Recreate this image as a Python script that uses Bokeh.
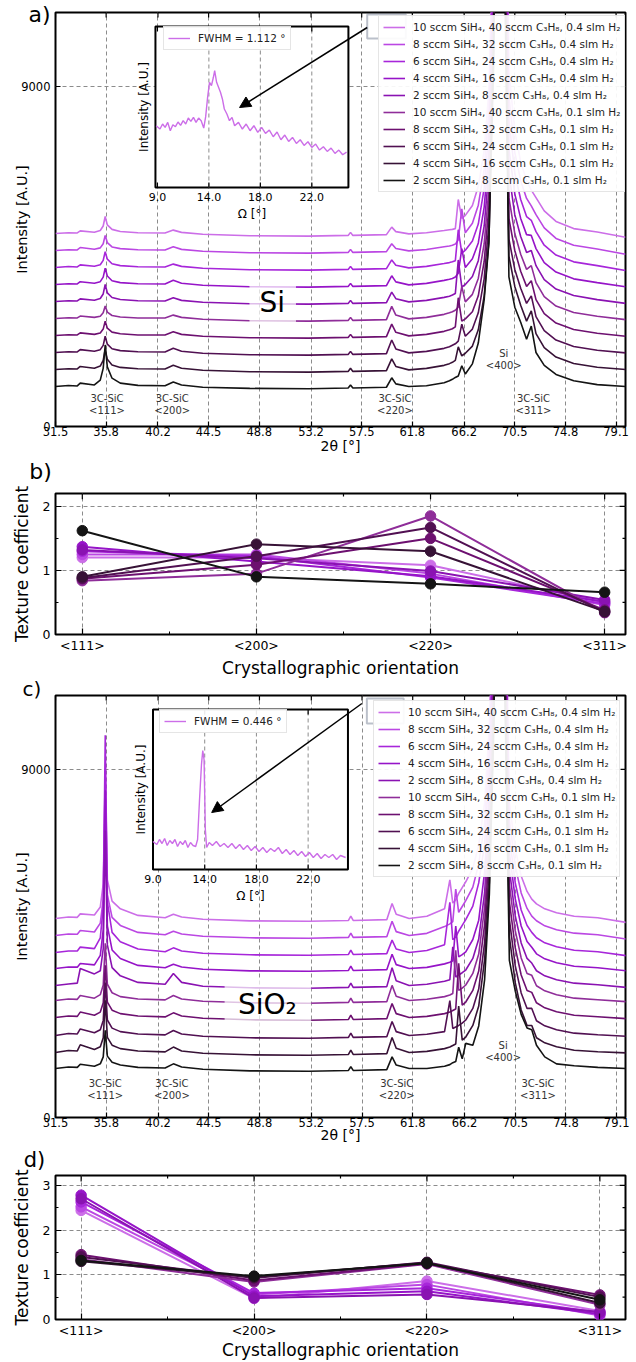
import math
from bokeh.plotting import figure
from bokeh.models import (Range1d, FixedTicker, Legend, LegendItem, Label, Title,
                          Arrow, NormalHead, BoxAnnotation)
from bokeh.layouts import column
from bokeh.embed import file_html
from bokeh.resources import INLINE
from bokeh.core.properties import value

FONT = "DejaVu Sans"
W = 636

# ---------------------------------------------------------------- data
series_labels = [
    "10 sccm SiH₄, 40 sccm C₃H₈, 0.4 slm H₂",
    "8 sccm SiH₄, 32 sccm C₃H₈, 0.4 slm H₂",
    "6 sccm SiH₄, 24 sccm C₃H₈, 0.4 slm H₂",
    "4 sccm SiH₄, 16 sccm C₃H₈, 0.4 slm H₂",
    "2 sccm SiH₄, 8 sccm C₃H₈, 0.4 slm H₂",
    "10 sccm SiH₄, 40 sccm C₃H₈, 0.1 slm H₂",
    "8 sccm SiH₄, 32 sccm C₃H₈, 0.1 slm H₂",
    "6 sccm SiH₄, 24 sccm C₃H₈, 0.1 slm H₂",
    "4 sccm SiH₄, 16 sccm C₃H₈, 0.1 slm H₂",
    "2 sccm SiH₄, 8 sccm C₃H₈, 0.1 slm H₂",
]
series_colors = ["#cc6ee8", "#bb47e3", "#a726da", "#9614c8", "#8a12b2",
                 "#8f2d99", "#6d1070", "#511052", "#371236", "#141414"]

two_theta_ticks = [31.5, 35.8, 40.2, 44.5, 48.8, 53.2, 57.5, 61.8, 66.2, 70.5, 74.8, 79.1]
intensity_ticks = [0, 9000]

two_theta = [31.5, 32.6, 33.35, 33.6, 34.8, 35.3, 35.55, 35.72, 35.9, 36.3, 37.0, 38.5,
             40.8, 41.5, 42.2, 44.0, 48.0, 53.0, 56.35, 56.55, 56.75, 59.6, 60.05, 60.4,
             61.5, 63.0, 64.5, 64.95, 65.2, 65.45, 65.7, 66.0, 66.3, 66.9, 67.4, 67.9,
             68.3, 68.7, 69.1, 69.6, 70.0, 70.5, 71.0, 71.5, 71.9, 72.3, 73.0, 74.0,
             75.5, 77.5, 79.9]

# waterfall offsets (counts) of each pattern
offsets_on_si = [5109, 4659, 4209, 3759, 3309, 2859, 2409, 1959, 1509, 1059]
offsets_on_sio2 = [5146, 4707, 4267, 3853, 3414, 3026, 2586, 2121, 1681, 1267]

# intensity above each pattern's offset (counts), on the two_theta grid
xrd_on_si = [
    [0, 20, 15, 70, 35, 80, 200, 450, 230, 110, 55, 20, 15, 90, 30, -20, -60, -70, -50, 30, -50, -30, 170, 50, -10,
     20, 80, 100, 110, 130, 900, 400, 480, 740, 1250, 2200, 3800, 8500, 30000, 14000, 4300, 2700, 1900, 1400, 1150, 950, 600, 320, 130, 40, -100],
    [0, 20, 15, 80, 35, 70, 180, 400, 210, 95, 50, 20, 15, 100, 30, -20, -60, -70, -50, 30, -50, -30, 180, 55, -10,
     25, 100, 120, 140, 170, 280, 1100, 470, 720, 1200, 2150, 3700, 8300, 30000, 13500, 4100, 2600, 1850, 1380, 1180, 950, 600, 320, 140, 40, -100],
    [0, 25, 15, 70, 35, 75, 190, 420, 220, 100, 50, 20, 15, 90, 30, -20, -60, -70, -50, 30, -50, -30, 200, 60, -10,
     30, 105, 130, 150, 180, 1000, 380, 460, 700, 1150, 2100, 3600, 8200, 30000, 13000, 3900, 2500, 1800, 1350, 1250, 950, 590, 330, 150, 50, -80],
    [0, 20, 15, 75, 35, 75, 195, 430, 225, 100, 50, 20, 15, 110, 35, -20, -60, -70, -50, 30, -50, -30, 230, 70, -10,
     30, 110, 140, 160, 200, 300, 950, 450, 680, 1100, 2050, 3500, 8100, 30000, 12500, 3600, 2400, 1750, 1320, 1300, 950, 580, 330, 150, 50, -60],
    [0, 20, 15, 70, 35, 80, 200, 450, 230, 105, 55, 20, 15, 100, 30, -20, -60, -70, -50, 30, -50, -30, 250, 75, -10,
     30, 110, 140, 170, 210, 1100, 380, 450, 660, 1080, 2000, 3450, 8000, 30000, 12000, 3400, 2300, 1720, 1300, 1350, 950, 580, 330, 160, 50, -50],
    [0, 20, 15, 65, 30, 60, 150, 330, 170, 80, 40, 15, 15, 90, 30, -20, -60, -70, -50, 30, -50, -30, 320, 90, -10,
     30, 110, 150, 180, 220, 300, 850, 440, 640, 1060, 1980, 3420, 8000, 30000, 12000, 3200, 2250, 1700, 1300, 1400, 950, 580, 330, 160, 60, -30],
    [0, 20, 15, 70, 30, 65, 170, 380, 195, 90, 45, 15, 15, 100, 30, -20, -60, -70, -50, 30, -50, -30, 300, 85, -10,
     30, 110, 150, 180, 230, 1000, 380, 440, 630, 1050, 1960, 3400, 8000, 30000, 12000, 3100, 2250, 1700, 1300, 1450, 950, 580, 330, 160, 60, -20],
    [0, 20, 15, 75, 35, 75, 190, 430, 220, 100, 50, 20, 15, 110, 35, -20, -60, -70, -50, 30, -50, -30, 330, 95, -10,
     30, 110, 150, 190, 230, 300, 750, 430, 620, 1050, 1950, 3400, 8000, 30000, 12000, 3000, 2200, 1700, 1300, 1500, 950, 580, 330, 160, 60, -10],
    [0, 20, 15, 80, 35, 90, 240, 530, 270, 120, 55, 20, 15, 110, 35, -20, -60, -70, -50, 30, -50, -30, 280, 80, -10,
     30, 110, 155, 190, 240, 600, 360, 430, 620, 1050, 1950, 3400, 8000, 30000, 12000, 3000, 2200, 1700, 1280, 1550, 950, 580, 330, 160, 60, 0],
    [0, 25, 15, 90, 40, 170, 480, 1100, 520, 220, 90, 30, 20, 120, 40, -20, -50, -60, -40, 40, -40, -20, 230, 70, 0,
     20, 100, 150, 190, 240, 280, 550, 330, 600, 1150, 2300, 3800, 9000, 30000, 12000, 2900, 2100, 1700, 1250, 1600, 900, 560, 320, 150, 50, 0],
]

xrd_on_sio2 = [
    [0, 40, 30, 120, 90, 300, 900, 3830, 1000, 450, 250, 80, 20, 110, 40, -20, -60, -70, -50, 60, -50, -30, 390, 110, 0,
     60, 250, 1000, 400, 480, 650, 800, 950, 1300, 1900, 3000, 5000, 9000, 30000, 10000, 3000, 1800, 1100, 700, 500, 380, 250, 150, 60, 20, -100],
    [0, 40, 30, 130, 90, 320, 950, 4140, 1050, 470, 260, 80, 20, 110, 40, -20, -60, -70, -50, 60, -50, -30, 370, 100, 0,
     55, 230, 300, 360, 1200, 600, 750, 900, 1250, 1850, 2900, 4900, 9000, 30000, 10000, 3000, 1800, 1100, 700, 500, 380, 250, 150, 60, 20, -90],
    [0, 40, 40, 140, 100, 380, 1200, 5620, 1300, 520, 280, 90, 20, 120, 40, -20, -60, -70, -50, 60, -50, -30, 320, 90, 0,
     50, 200, 1300, 330, 400, 550, 700, 850, 1200, 1800, 2800, 4800, 9000, 30000, 10000, 3000, 1800, 1100, 700, 520, 380, 250, 150, 60, 20, -80],
    [0, 40, 35, 130, 95, 340, 1000, 4610, 1100, 480, 260, 80, 20, 110, 40, -20, -60, -70, -50, 60, -50, -30, 370, 100, 0,
     30, 120, 160, 200, 1100, 300, 360, 430, 750, 1250, 2500, 4500, 9000, 30000, 10000, 3000, 1800, 1100, 700, 550, 380, 250, 150, 60, 20, -60],
    [0, 40, 60, 440, 300, 380, 950, 4010, 1050, 460, 250, 80, 30, 310, 80, -20, -60, -70, -50, 60, -50, -30, 460, 120, 0,
     30, 110, 150, 1000, 220, 270, 330, 400, 700, 1200, 2400, 4400, 9000, 30000, 10000, 3000, 1800, 1100, 700, 580, 380, 250, 150, 60, 20, -50],
    [0, 40, 30, 130, 60, 150, 400, 1480, 420, 200, 100, 40, 15, 130, 40, -20, -60, -70, -50, 60, -50, -30, 390, 110, 0,
     30, 100, 140, 180, 1300, 260, 320, 400, 700, 1200, 2400, 4400, 9000, 30000, 10000, 3000, 1800, 1100, 700, 650, 380, 250, 150, 60, 20, -30],
    [0, 40, 30, 140, 60, 140, 380, 1350, 400, 190, 100, 40, 15, 120, 40, -20, -60, -70, -50, 60, -50, -30, 360, 100, 0,
     30, 100, 140, 180, 220, 1400, 320, 400, 700, 1200, 2400, 4400, 9000, 30000, 10000, 3000, 1800, 1100, 700, 650, 380, 250, 150, 60, 20, -30],
    [0, 50, 40, 170, 70, 150, 390, 1370, 400, 190, 100, 40, 15, 130, 40, -20, -60, -70, -50, 60, -50, -30, 360, 100, 0,
     30, 100, 900, 180, 220, 260, 320, 400, 700, 1200, 2400, 4400, 9000, 30000, 10000, 3000, 1800, 1100, 700, 700, 380, 250, 150, 60, 20, -20],
    [0, 50, 40, 200, 80, 150, 380, 1350, 390, 190, 100, 40, 15, 140, 40, -20, -60, -70, -50, 60, -50, -30, 390, 110, 0,
     30, 100, 140, 180, 220, 1200, 320, 400, 700, 1200, 2400, 4400, 9000, 30000, 10000, 3000, 1800, 1100, 700, 700, 380, 250, 150, 60, 20, -10],
    [0, 40, 30, 110, 60, 120, 300, 985, 320, 160, 90, 30, 15, 120, 40, -20, -60, -70, -50, 50, -50, -30, 300, 90, 0,
     0, 60, 100, 150, 180, 550, 250, 650, 600, 1100, 2300, 4500, 9000, 30000, 10000, 2800, 2000, 1400, 1050, 1000, 600, 300, 120, 70, 30, 0],
]

peak_label_texts = ["3C-SiC\n<111>", "3C-SiC\n<200>", "3C-SiC\n<220>", "Si\n<400>", "3C-SiC\n<311>"]

# rocking-curve insets (omega in degrees, intensity in arbitrary units)
inset_tick_pos = [10, 14, 18, 22]
inset_tick_labels = ["9.0", "14.0", "18.0", "22.0"]
omega_on_si = [9.9, 10.2, 10.4, 10.6, 10.8, 11.0, 11.2, 11.4, 11.6, 11.8, 12.0, 12.2, 12.4, 12.6, 12.8,
               13.0, 13.2, 13.4, 13.6, 13.75, 13.9, 14.05, 14.2, 14.35, 14.45, 14.6, 14.75, 14.9, 15.05,
               15.2, 15.4, 15.6, 15.8, 16.0, 16.3, 16.6, 16.9, 17.2, 17.5, 17.8, 18.1, 18.4, 18.7, 19.0,
               19.3, 19.6, 19.9, 20.2, 20.5, 20.8, 21.1, 21.4, 21.7, 22.0, 22.3, 22.6, 22.9, 23.2, 23.5,
               23.8, 24.1, 24.4, 24.7]
rocking_on_si = [185, 175, 190, 180, 195, 170, 188, 182, 196, 186, 200, 190, 208, 198, 210,
                 195, 208, 200, 178, 212, 270, 315, 305, 330, 350, 315, 300, 285, 265,
                 235, 220, 200, 210, 185, 195, 175, 190, 170, 185, 165, 180, 162, 172, 152,
                 166, 143, 157, 138, 150, 132, 143, 126, 137, 120, 130, 112, 122, 108, 118,
                 102, 112, 98, 106]
omega_on_sio2 = [10.0, 10.3, 10.5, 10.7, 10.9, 11.1, 11.3, 11.5, 11.7, 11.9, 12.1, 12.3, 12.5, 12.7,
                 12.9, 13.1, 13.3, 13.45, 13.6, 13.75, 13.85, 13.95, 14.05, 14.15, 14.35, 14.6, 14.9,
                 15.2, 15.5, 15.8, 16.1, 16.4, 16.7, 17.0, 17.3, 17.6, 17.9, 18.2, 18.5, 18.8, 19.1,
                 19.4, 19.7, 20.0, 20.3, 20.6, 20.9, 21.2, 21.5, 21.8, 22.1, 22.4, 22.7, 23.0, 23.3,
                 23.6, 23.9, 24.2, 24.5, 24.9]
rocking_on_sio2 = [28, 25, 30, 26, 31, 24, 29, 26, 30, 23, 28, 25, 29, 22,
                   27, 24, 23, 30, 70, 105, 119, 110, 40, 22, 27, 24, 28,
                   23, 26, 22, 26, 21, 25, 20, 24, 19, 23, 18, 22, 17, 21,
                   18, 22, 16, 20, 15, 19, 14, 18, 13, 17, 12, 16, 11, 15,
                   12, 15, 10, 14, 12]

orientations = ["<111>", "<200>", "<220>", "<311>"]
# texture coefficients, one list per series (series order as in series_labels)
tc_on_si = [
    [1.20, 1.20, 1.08, 0.50],
    [1.25, 1.25, 0.95, 0.46],
    [1.30, 1.22, 0.89, 0.48],
    [1.37, 1.14, 0.91, 0.51],
    [1.32, 1.19, 0.99, 0.54],
    [0.84, 0.95, 1.85, 0.34],
    [0.87, 1.09, 1.50, 0.38],
    [0.88, 1.22, 1.67, 0.35],
    [0.90, 1.41, 1.30, 0.36],
    [1.62, 0.90, 0.79, 0.66],
]
tc_on_sio2 = [
    [2.44, 0.47, 0.86, 0.19],
    [2.52, 0.56, 0.78, 0.09],
    [2.63, 0.59, 0.70, 0.15],
    [2.78, 0.52, 0.63, 0.12],
    [2.70, 0.48, 0.56, 0.17],
    [1.35, 0.84, 1.24, 0.33],
    [1.45, 0.87, 1.25, 0.55],
    [1.40, 0.93, 1.28, 0.50],
    [1.30, 0.95, 1.27, 0.37],
    [1.32, 0.97, 1.26, 0.44],
]


# ---------------------------------------------------------------- helpers
def px_map(L, R, T, B, xr, yr):
    def X(px):
        return xr[0] + (px - L) / (R - L) * (xr[1] - xr[0])

    def Y(py):
        return yr[0] + (B - py) / (B - T) * (yr[1] - yr[0])
    return X, Y


def style_axis(ax, size, standoff, label, label_size, label_standoff, tin=5, minor_in=0):
    ax.axis_line_color = None
    ax.major_tick_in = tin
    ax.major_tick_out = 0
    ax.minor_tick_in = minor_in
    ax.minor_tick_out = 0
    ax.major_tick_line_color = "black"
    ax.major_tick_line_width = 1.2
    ax.minor_tick_line_color = "black"
    ax.major_label_text_font = FONT
    ax.major_label_text_color = "black"
    ax.major_label_text_font_size = size
    ax.major_label_standoff = standoff
    ax.axis_label = label
    ax.axis_label_text_font = FONT
    ax.axis_label_text_font_size = label_size
    ax.axis_label_text_font_style = "normal"
    ax.axis_label_text_color = "black"
    ax.axis_label_standoff = label_standoff


def mirror_ticks(p, xr, yr, L, R, T, B, xticks, yticks, length, xminor=(), yminor=(), mlength=0):
    # inward ticks on the top and right edges of the frame
    dy = (yr[1] - yr[0]) / (B - T)
    dx = (xr[1] - xr[0]) / (R - L)
    for xs, ln in ((list(xticks), length), (list(xminor), mlength)):
        if xs:
            p.segment(x0=xs, y0=[yr[1]] * len(xs), x1=xs, y1=[yr[1] - ln * dy] * len(xs),
                      line_color="black", line_width=1.2)
    for ys, ln in ((list(yticks), length), (list(yminor), mlength)):
        if ys:
            p.segment(x0=[xr[1]] * len(ys), y0=ys, x1=[xr[1] - ln * dx] * len(ys), y1=ys,
                      line_color="black", line_width=1.2)


def make_legend(items, loc, size="10.5px"):
    lg = Legend(items=items, location=loc, orientation="vertical")
    lg.label_text_font = FONT
    lg.label_text_font_size = size
    lg.label_text_color = "#222222"
    lg.glyph_width = 22
    lg.glyph_height = 14
    lg.label_height = 14
    lg.label_standoff = 8
    lg.spacing = 3
    lg.padding = 4
    lg.margin = 0
    lg.border_line_color = "#cccccc"
    lg.border_line_width = 1
    lg.background_fill_color = "white"
    lg.background_fill_alpha = 0.92
    return lg


def add_letter(p, L, T, spec):
    kind = spec[0]
    if kind == "label":
        # letter placed in the space above the frame (screen units from the frame's top-left)
        _, text, cx, cy, size = spec
        p.add_layout(Label(x=cx - L, y=T - cy, x_units="screen", y_units="screen", text=text,
                           text_font=FONT, text_font_size=size, text_align="center",
                           text_baseline="middle", text_color="black"), "above")
    else:
        _, text, offset, standoff, size = spec
        p.add_layout(Title(text=text, align="left", offset=offset, standoff=standoff,
                           vertical_align="bottom", text_font=FONT, text_font_size=size,
                           text_font_style="normal", text_color="black"), "above")


def new_figure(top, fh, L, R, T, B, xr, yr):
    p = figure(width=W, height=fh, x_range=Range1d(*xr), y_range=Range1d(*yr), title=None,
               output_backend="svg", toolbar_location=None,
               min_border_left=L, min_border_right=W - R,
               min_border_top=T - top, min_border_bottom=top + fh - B)
    p.outline_line_color = "black"
    p.outline_line_width = 2
    p.border_fill_color = "white"
    return p


def style_grid(p):
    for g in (p.xgrid[0], p.ygrid[0]):
        g.grid_line_color = "#8c8c8c"
        g.grid_line_dash = "4 3"
        g.grid_line_width = 1


def xrd_figure(cfg):
    top, fh = cfg["top"], cfg["height"]
    L, R, T, B = cfg["frame"]
    xr = (31.5, cfg["x_end"])
    yr = (0, cfg["y_end"])
    X, Y = px_map(L, R, T, B, xr, yr)
    p = new_figure(top, fh, L, R, T, B, xr, yr)
    xt = FixedTicker(ticks=two_theta_ticks, minor_ticks=[])
    yt = FixedTicker(ticks=intensity_ticks, minor_ticks=[])
    p.xaxis.ticker = xt
    p.yaxis.ticker = yt
    style_axis(p.xaxis[0], "11.5px", 0, "2θ [°]", "14px", cfg["xlabel_standoff"])
    style_axis(p.yaxis[0], "11.5px", 5, "Intensity [A.U.]", "14.5px", -12)
    p.xgrid.ticker = xt
    p.ygrid.ticker = yt
    style_grid(p)
    mirror_ticks(p, xr, yr, L, R, T, B, two_theta_ticks, intensity_ticks, 5)

    rends = []
    for i in range(10):
        ys = [cfg["offsets"][i] + v for v in cfg["rows"][i]]
        rends.append(p.line(two_theta, ys, line_color=series_colors[i], line_width=1.6))

    # substrate label with translucent white box
    sl, sr, st, sb = cfg["sub_box"]
    p.quad(left=[X(sl)], right=[X(sr)], top=[Y(st)], bottom=[Y(sb)],
           fill_color="white", fill_alpha=0.72, line_color=None)
    cx, cy = cfg["sub_center"]
    p.text(x=[X(cx)], y=[Y(cy)], text=[cfg["sub_text"]], text_font=value(FONT),
           text_font_size=value("28px"), text_align="center", text_baseline="middle",
           text_color="black")

    # peak labels
    p.text(x=[X(v) for v in cfg["peak_px"]], y=[Y(v) for v in cfg["peak_py"]],
           text=peak_label_texts, text_font=value(FONT), text_font_size=value("10px"),
           text_align="center", text_baseline="middle", text_color="#333333",
           text_line_height=1.15)

    # inset (own scales mapped onto the inset box)
    bl, br, bt, bb = cfg["inset_box"]
    o0, o1 = cfg["inset_omega"]
    i0, i1 = cfg["inset_int"]
    sx = (o1 - o0) / (br - bl)
    sy = (i1 - i0) / (bb - bt)
    p.extra_x_ranges = {"ix": Range1d(o0 - (bl - L) * sx, o1 + (R - br) * sx)}
    p.extra_y_ranges = {"iy": Range1d(i0 - (B - bb) * sy, i1 + (bt - T) * sy)}
    kw = dict(x_range_name="ix", y_range_name="iy")
    p.quad(left=[o0], right=[o1], bottom=[i0], top=[i1], fill_color="white",
           line_color="black", line_width=2, **kw)
    gx = inset_tick_pos[1:]
    p.segment(x0=gx, y0=[i0] * len(gx), x1=gx, y1=[i1] * len(gx), line_color="#8c8c8c",
              line_dash="4 3", line_width=1, **kw)
    n = len(inset_tick_pos)
    p.segment(x0=inset_tick_pos, y0=[i0] * n, x1=inset_tick_pos, y1=[i0 + 5 * sy] * n,
              line_color="black", line_width=1.2, **kw)
    p.segment(x0=inset_tick_pos, y0=[i1] * n, x1=inset_tick_pos, y1=[i1 - 5 * sy] * n,
              line_color="black", line_width=1.2, **kw)
    curve = p.line(cfg["omega"], cfg["rocking"], line_color=series_colors[0], line_width=1.4, **kw)
    p.text(x=inset_tick_pos, y=[i0 - 9 * sy] * n, text=inset_tick_labels, text_font=value(FONT),
           text_font_size=value("11px"), text_align="center", text_baseline="middle",
           text_color="black", **kw)
    p.text(x=[(o0 + o1) / 2], y=[i0 - 26 * sy], text=["Ω [°]"], text_font=value(FONT),
           text_font_size=value("12px"), text_align="center", text_baseline="middle",
           text_color="black", **kw)
    p.text(x=[o0 - 12 * sx], y=[(i0 + i1) / 2], text=["Intensity [A.U.]"], angle=math.pi / 2,
           text_font=value(FONT), text_font_size=value("12px"), text_align="center",
           text_baseline="middle", text_color="black", **kw)

    # legends
    items = [LegendItem(label=value(series_labels[i]), renderers=[rends[i]]) for i in range(10)]
    p.add_layout(make_legend(items, cfg["legend_loc"]))
    p.add_layout(make_legend([LegendItem(label=value(cfg["fwhm"]), renderers=[curve])],
                             cfg["inset_legend_loc"]))

    # arrow and highlight box
    a0x, a0y, a1x, a1y = cfg["arrow"]
    p.add_layout(Arrow(end=NormalHead(size=11, fill_color="black", line_color="black"),
                       x_start=X(a0x), y_start=Y(a0y), x_end=X(a1x), y_end=Y(a1y),
                       line_color="black", line_width=1.5, level="overlay"))
    hl, hr, ht, hb = cfg["highlight"]
    p.add_layout(BoxAnnotation(left=X(hl), right=X(hr), top=Y(ht), bottom=Y(hb),
                               fill_color=None, fill_alpha=0, line_color="#1f3050",
                               line_width=2, level="overlay"))
    add_letter(p, L, T, cfg["letter"])
    return p


def tc_figure(cfg):
    top, fh = cfg["top"], cfg["height"]
    L, R, T, B = cfg["frame"]
    c0, c3 = cfg["cat_px"]
    step = (c3 - c0) / 3
    xr = (-(c0 - L) / step, 3 + (R - c3) / step)
    yr = (0, cfg["y_end"])
    p = new_figure(top, fh, L, R, T, B, xr, yr)
    xt = FixedTicker(ticks=[0, 1, 2, 3], minor_ticks=[0.5, 1.5, 2.5])
    yt = FixedTicker(ticks=cfg["y_ticks"], minor_ticks=cfg["y_minor"])
    p.xaxis.ticker = xt
    p.yaxis.ticker = yt
    style_axis(p.xaxis[0], "12.5px", 3, "Crystallographic orientation", "17px",
               cfg["xlabel_standoff"], 6, 3)
    style_axis(p.yaxis[0], "12.5px", 5, "Texture coefficient", "17px", 8, 6, 3)
    p.xaxis[0].major_label_overrides = {i: o for i, o in enumerate(orientations)}
    p.xgrid.ticker = FixedTicker(ticks=[0, 1, 2, 3], minor_ticks=[])
    p.ygrid.ticker = FixedTicker(ticks=cfg["y_ticks"], minor_ticks=[])
    style_grid(p)
    mirror_ticks(p, xr, yr, L, R, T, B, [0, 1, 2, 3], cfg["y_ticks"], 6,
                 [0.5, 1.5, 2.5], cfg["y_minor"], 3)
    xs = list(range(len(orientations)))
    for i in range(10):
        p.line(xs, cfg["values"][i], line_color=series_colors[i], line_width=2)
        p.scatter(xs, cfg["values"][i], marker="circle", size=10.5, fill_color=series_colors[i],
                  line_color=series_colors[i])
    add_letter(p, L, T, cfg["letter"])
    return p


# ---------------------------------------------------------------- panels
fig_a = xrd_figure(dict(
    top=0, height=456, frame=(49, 625, 12, 426), x_end=79.9, y_end=10960,
    offsets=offsets_on_si, rows=xrd_on_si, xlabel_standoff=-1,
    sub_box=(245, 292, 281, 324), sub_center=(268, 302), sub_text="Si",
    peak_px=[101, 167, 392, 502, 532], peak_py=[404, 404, 404, 359, 404],
    inset_box=(150, 345, 26, 187), inset_omega=(9.846, 24.846), inset_int=(0, 482),
    omega=omega_on_si, rocking=rocking_on_si, fwhm="FWHM = 1.112 °",
    legend_loc=(323, 234), inset_legend_loc=(108, 376),
    arrow=(364, 27, 235, 107), highlight=(364, 403, 14, 38),
    letter=("title", "a)", -27, -28, "22px")))

fig_b = tc_figure(dict(
    top=456, height=224, frame=(53, 627, 493, 638), cat_px=(80, 606), y_end=2.2,
    y_ticks=[0, 1, 2], y_minor=[0.5, 1.5], values=tc_on_si, xlabel_standoff=2,
    letter=("label", "b)", 38, 471, "22px")))

fig_c = xrd_figure(dict(
    top=680, height=465, frame=(55, 628, 695, 1117), x_end=79.85, y_end=10913,
    offsets=offsets_on_sio2, rows=xrd_on_sio2, xlabel_standoff=-3,
    sub_box=(225, 312, 978, 1030), sub_center=(268, 1004), sub_text="SiO₂",
    peak_px=[105, 172, 398, 505, 540], peak_py=[1089, 1089, 1089, 1051, 1089],
    inset_box=(153, 349, 709, 869), inset_omega=(10.0, 25.08), inset_int=(0, 160),
    omega=omega_on_sio2, rocking=rocking_on_sio2, fwhm="FWHM = 0.446 °",
    legend_loc=(318, 240), inset_legend_loc=(104, 384),
    arrow=(363, 703, 212, 812), highlight=(368, 405, 698, 723),
    letter=("title", "c)", -33, -11, "20px")))

fig_d = tc_figure(dict(
    top=1145, height=217, frame=(55, 633, 1175, 1320), cat_px=(81, 607), y_end=3.22,
    y_ticks=[0, 1, 2, 3], y_minor=[0.5, 1.5, 2.5], values=tc_on_sio2, xlabel_standoff=-1,
    letter=("label", "d)", 34, 1159, "21px")))

layout = column(fig_a, fig_b, fig_c, fig_d, spacing=0)
open("out.html", "w").write(file_html(layout, INLINE))
